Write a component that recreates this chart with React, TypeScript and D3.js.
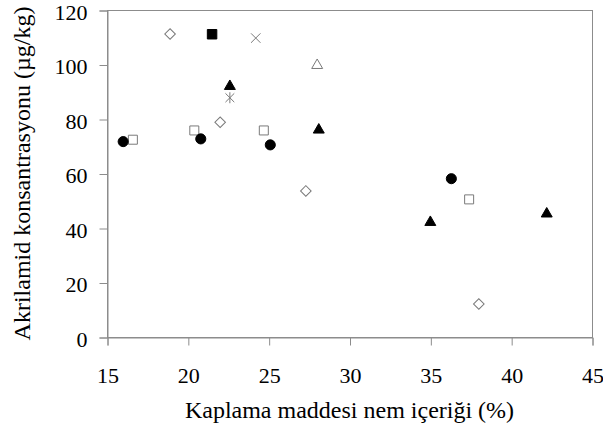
import React, { useRef, useEffect } from 'react';
import * as d3 from 'd3';

// values: [moisture %, acrylamide µg/kg]
const filledCircles = [[16.0, 71.7], [20.8, 72.7], [25.1, 70.5], [36.3, 58.1]];
const openSquares = [[16.6, 72.4], [20.4, 75.8], [24.7, 75.8], [37.4, 50.5]];
const openDiamonds = [[18.9, 111.2], [22.0, 78.8], [27.3, 53.6], [38.0, 12.1]];
const filledTriangles = [[22.6, 92.0], [28.1, 76.0], [35.0, 42.1], [42.2, 45.2]];
const filledSquares = [[21.5, 111.1]];
const crosses = [[24.2, 109.7]];
const asterisks = [[22.6, 87.8]];
const openTriangles = [[28.0, 99.7]];

const xTicks = [15, 20, 25, 30, 35, 40, 45];
const yTicks = [0, 20, 40, 60, 80, 100, 120];

const xTitle = 'Kaplama maddesi nem içeriği (%)';
const yTitle = 'Akrilamid konsantrasyonu (µg/kg)';

const App = () => {
  const ref = useRef(null);

  useEffect(() => {
    const W = 603;
    const H = 428;
    const margin = { top: 10, right: 11, bottom: 91, left: 107 };
    const width = W - margin.left - margin.right;
    const height = H - margin.top - margin.bottom;
    const axisColor = '#8c8c8c';
    const font = 'Liberation Serif, Times New Roman, serif';

    d3.select(ref.current).select('svg').remove();

    const svg = d3.select(ref.current)
      .append('svg')
      .attr('width', W)
      .attr('height', H)
      .style('position', 'absolute')
      .style('left', 0)
      .style('top', 0)
      .style('background', '#fff');

    const g = svg.append('g')
      .attr('transform', `translate(${margin.left},${margin.top})`);

    const x = d3.scaleLinear().domain([15, 45]).range([0, width]);
    const y = d3.scaleLinear().domain([0, 120]).range([height, 0]);

    // frame
    g.append('rect')
      .attr('x', 0.5)
      .attr('y', 0.5)
      .attr('width', width)
      .attr('height', height)
      .attr('fill', 'none')
      .attr('stroke', axisColor)
      .attr('stroke-width', 1);

    // x axis
    const xAxis = g.append('g')
      .attr('transform', `translate(0.5,${height + 0.5})`)
      .call(d3.axisBottom(x).tickValues(xTicks).tickSize(8).tickPadding(22).tickFormat(d3.format('d')))
      .attr('font-family', font)
      .attr('font-size', 22);
    xAxis.select('.domain').attr('stroke', axisColor);
    xAxis.selectAll('line').attr('stroke', axisColor);
    xAxis.selectAll('text')
      .attr('fill', '#000')
      .style('font-family', font);

    // y axis
    const yAxis = g.append('g')
      .attr('transform', 'translate(0.5,0.5)')
      .call(d3.axisLeft(y).tickValues(yTicks).tickSize(8).tickPadding(12).tickFormat(d3.format('d')))
      .attr('font-family', font)
      .attr('font-size', 22);
    yAxis.select('.domain').attr('stroke', axisColor);
    yAxis.selectAll('line').attr('stroke', axisColor);
    yAxis.selectAll('text')
      .attr('fill', '#000')
      .attr('dy', '0.4em')
      .style('font-family', font);

    // axis titles
    svg.append('text')
      .attr('x', margin.left + width / 2)
      .attr('y', 418)
      .attr('text-anchor', 'middle')
      .attr('font-family', font)
      .attr('font-size', 24)
      .text(xTitle);

    svg.append('text')
      .attr('transform', `translate(30,${margin.top + height / 2}) rotate(-90)`)
      .attr('text-anchor', 'middle')
      .attr('font-family', font)
      .attr('font-size', 24)
      .text(yTitle);

    const gray = '#7a7a7a';
    const pts = g.append('g');

    const draw = (data, path, fill, stroke, rotate = 0) => {
      pts.selectAll(null)
        .data(data)
        .enter()
        .append('path')
        .attr('d', path)
        .attr('transform', d => `translate(${x(d[0])},${y(d[1])}) rotate(${rotate})`)
        .attr('fill', fill)
        .attr('stroke', stroke)
        .attr('stroke-width', 1);
    };

    const asteriskPath = () => {
      const r = 5.5;
      return `M0,${-r}L0,${r}M${-r * 0.8},${-r * 0.8}L${r * 0.8},${r * 0.8}M${-r * 0.8},${r * 0.8}L${r * 0.8},${-r * 0.8}`;
    };

    draw(openDiamonds, d3.symbol(d3.symbolSquare, 56)(), '#fff', gray, 45);
    draw(openSquares, d3.symbol(d3.symbolSquare, 81)(), '#fff', gray);
    draw(filledCircles, d3.symbol(d3.symbolCircle, 80)(), '#000', '#000');
    draw(filledTriangles, d3.symbol(d3.symbolTriangle, 52)(), '#000', '#000');
    draw(filledSquares, d3.symbol(d3.symbolSquare, 90)(), '#000', '#000');
    draw(openTriangles, d3.symbol(d3.symbolTriangle, 52)(), 'none', gray);
    draw(crosses, d3.symbol(d3.symbolTimes, 60)(), 'none', gray);
    draw(asterisks, asteriskPath(), 'none', gray);
  }, []);

  return <div ref={ref}></div>;
};

export default App;
